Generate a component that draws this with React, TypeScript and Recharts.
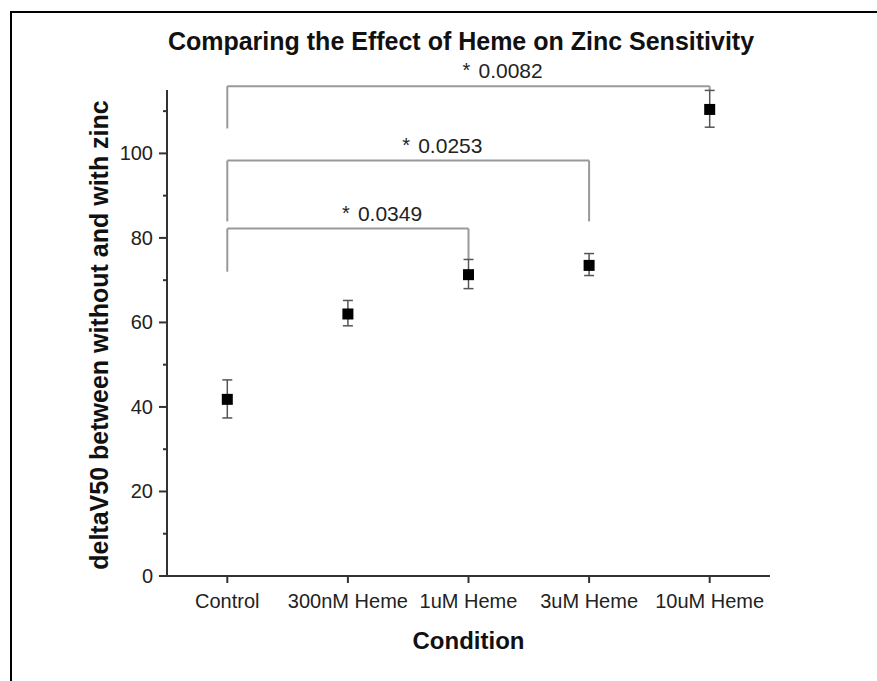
import {
  ScatterChart,
  Scatter,
  XAxis,
  YAxis,
  ErrorBar,
  ReferenceLine,
} from "recharts"

const categories = ["Control", "300nM Heme", "1uM Heme", "3uM Heme", "10uM Heme"]
const means = [41.8, 62.0, 71.3, 73.5, 110.4]
const errLow = [37.4, 59.2, 68.0, 71.1, 106.2]
const errHigh = [46.4, 65.2, 74.9, 76.3, 114.9]
const yTicks = [0, 10, 20, 30, 40, 50, 60, 70, 80, 90, 100, 110]

// significance brackets: from category index, to index, height, leg ends, label
const bracketFrom = [0, 0, 0]
const bracketTo = [4, 3, 2]
const bracketTop = [115.9, 98.3, 82.2]
const bracketLeftEnd = [105.9, 83.9, 72.0]
const bracketRightEnd = [114.9, 83.9, 74.9]
const bracketLabels = ["0.0082", "0.0253", "0.0349"]

const data = categories.map((c, i) => ({
  x: i,
  y: means[i],
  err: [means[i] - errLow[i], errHigh[i] - means[i]],
}))

const FONT = "'Liberation Sans', Arial, sans-serif"
const AXIS = "#333"
const BRACKET = "#999"

const Square = (props: any) => {
  const { cx, cy } = props
  return <rect x={cx - 5.5} y={cy - 5.5} width={11} height={11} fill="#000" />
}

const YTick = ({ x, y, payload }: any) => {
  const major = payload.value % 20 === 0
  return (
    <g>
      <line x1={x} x2={x - (major ? 8 : 4)} y1={y} y2={y} stroke={AXIS} strokeWidth={2} />
      {major && (
        <text x={x - 14} y={y} dy={7} textAnchor="end" fontSize={20} fill="#222" fontFamily={FONT}>
          {payload.value}
        </text>
      )}
    </g>
  )
}

const bracketLabel = (text: string) => (props: any) => {
  const vb = props.viewBox
  if (!vb) return null
  const x = vb.x + vb.width / 2 - 2
  return (
    <g fontFamily={FONT} fill="#222">
      <text x={x} y={vb.y - 9} fontSize={20} textAnchor="middle">*</text>
      <text x={x + 12} y={vb.y - 8} fontSize={21} textAnchor="start">{text}</text>
    </g>
  )
}

export default function App() {
  return (
    <div style={{ position: "fixed", left: 0, top: 0, width: 877, height: 681, background: "#fff" }}>
      <div
        style={{
          position: "absolute",
          left: 10,
          top: 11,
          width: 867,
          height: 670,
          borderLeft: "2px solid #000",
          borderTop: "2px solid #000",
        }}
      />
      <div
        style={{
          position: "absolute",
          left: 111,
          width: 700,
          top: 27,
          textAlign: "center",
          fontFamily: FONT,
          fontWeight: "bold",
          fontSize: 25,
          color: "#111",
        }}
      >
        Comparing the Effect of Heme on Zinc Sensitivity
      </div>
      <ScatterChart
        width={877}
        height={681}
        margin={{ top: 90, right: 107, bottom: 75, left: 0 }}
        style={{ position: "absolute", left: 0, top: 0 }}
      >
        <XAxis
          type="number"
          dataKey="x"
          domain={[-0.5, 4.5]}
          ticks={[0, 1, 2, 3, 4]}
          interval={0}
          tickFormatter={(v: number) => categories[v]}
          stroke={AXIS}
          strokeWidth={2}
          tickSize={7}
          tickMargin={11}
          height={30}
          tick={{ fill: "#222", fontSize: 20, fontFamily: FONT }}
          label={(props: any) => {
            const vb = props.viewBox
            return (
              <text
                x={vb.x + vb.width / 2}
                y={649}
                textAnchor="middle"
                fontSize={24}
                fontWeight="bold"
                fill="#111"
                fontFamily={FONT}
              >
                Condition
              </text>
            )
          }}
        />
        <YAxis
          type="number"
          dataKey="y"
          domain={[0, 115]}
          ticks={yTicks}
          interval={0}
          width={167}
          stroke={AXIS}
          strokeWidth={2}
          tickLine={false}
          tickSize={0}
          tickMargin={0}
          tick={<YTick />}
          label={(props: any) => {
            const vb = props.viewBox
            const cx = 99
            const cy = vb.y + vb.height / 2 + 2
            return (
              <text
                x={cx}
                y={cy}
                transform={`rotate(-90, ${cx}, ${cy})`}
                textAnchor="middle"
                dominantBaseline="central"
                fontSize={25}
                fontWeight="bold"
                fill="#111"
                fontFamily={FONT}
              >
                deltaV50 between without and with zinc
              </text>
            )
          }}
        />
        {bracketTop.map((top, i) => (
          <ReferenceLine
            key={`top${i}`}
            ifOverflow="visible"
            segment={[
              { x: bracketFrom[i], y: top },
              { x: bracketTo[i], y: top },
            ]}
            stroke={BRACKET}
            strokeWidth={2}
            label={bracketLabel(bracketLabels[i])}
          />
        ))}
        {bracketTop.map((top, i) => (
          <ReferenceLine
            key={`l${i}`}
            ifOverflow="visible"
            segment={[
              { x: bracketFrom[i], y: top },
              { x: bracketFrom[i], y: bracketLeftEnd[i] },
            ]}
            stroke={BRACKET}
            strokeWidth={2}
          />
        ))}
        {bracketTop.map((top, i) => (
          <ReferenceLine
            key={`r${i}`}
            ifOverflow="visible"
            segment={[
              { x: bracketTo[i], y: top },
              { x: bracketTo[i], y: bracketRightEnd[i] },
            ]}
            stroke={BRACKET}
            strokeWidth={2}
          />
        ))}
        <Scatter data={data} shape={<Square />} isAnimationActive={false}>
          <ErrorBar dataKey="err" direction="y" width={5} stroke="#555" strokeWidth={1.5} />
        </Scatter>
      </ScatterChart>
    </div>
  )
}
